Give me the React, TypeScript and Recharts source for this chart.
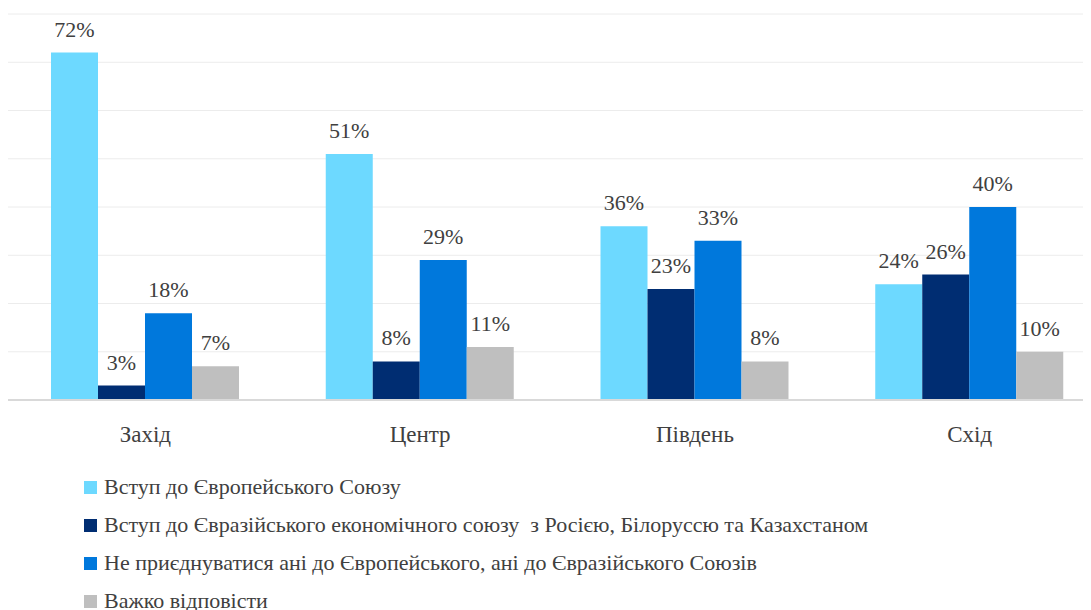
import { BarChart, Bar, XAxis, YAxis, CartesianGrid, Legend, LabelList } from 'recharts';

const regions = ['Захід', 'Центр', 'Південь', 'Схід'];
const euValues = [72, 51, 36, 24];
const eaeuValues = [3, 8, 23, 26];
const neitherValues = [18, 29, 33, 40];
const hardValues = [7, 11, 8, 10];
const yTicks = [0, 10, 20, 30, 40, 50, 60, 70, 80];

const series = [
  { key: 'eu', name: 'Вступ до Європейського Союзу', color: '#6dd9ff' },
  { key: 'eaeu', name: 'Вступ до Євразійського економічного союзу  з Росією, Білоруссю та Казахстаном', color: '#002d72' },
  { key: 'neither', name: 'Не приєднуватися ані до Європейського, ані до Євразійського Союзів', color: '#0078dc' },
  { key: 'hard', name: 'Важко відповісти', color: '#bfbfbf' },
];

const data = regions.map((region, i) => ({
  region,
  eu: euValues[i],
  eaeu: eaeuValues[i],
  neither: neitherValues[i],
  hard: hardValues[i],
}));

const FONT = '"Liberation Serif", "Times New Roman", Times, serif';
const TEXT = '#404040';

// force the serif face on everything inside the chart, svg text included
const css = `.chart-root, .chart-root * { font-family: ${FONT} !important; }`;

// own list so the legend keeps the series order (recharts sorts by name)
const renderLegend = () => (
  <div style={{ fontSize: 22, color: TEXT }}>
    {series.map((s) => (
      <div
        key={s.key}
        style={{ height: 38, whiteSpace: 'pre', display: 'flex', alignItems: 'center' }}
      >
        <span style={{ display: 'inline-block', width: 13, height: 13, background: s.color, marginRight: 7 }} />
        <span>{s.name}</span>
      </div>
    ))}
  </div>
);

const labelProps = {
  position: 'top' as const,
  offset: 16,
  formatter: (v: number) => `${v}%`,
  style: { fontSize: 22, fill: TEXT },
};

export default function App() {
  return (
    <div className="chart-root" style={{ width: 1083, height: 602, overflow: 'hidden', position: 'relative' }}>
      <style>{css}</style>
      <BarChart
        width={1099}
        height={602}
        data={data}
        margin={{ top: 6, right: 0, bottom: 180, left: 0 }}
        barGap={0}
        barSize={47}
      >
        <CartesianGrid vertical={false} stroke="#ececec" />
        <YAxis hide domain={[0, 80]} ticks={yTicks} />
        <XAxis
          dataKey="region"
          tickLine={false}
          axisLine={{ stroke: '#d9d9d9', strokeWidth: 2 }}
          tickMargin={20}
          tick={{ fontSize: 23, fill: TEXT }}
        />
        <Legend
          layout="vertical"
          align="center"
          verticalAlign="middle"
          content={renderLegend}
          wrapperStyle={{ left: 76, top: 460, width: 1000, height: 152 }}
        />
        {series.map((s) => (
          <Bar key={s.key} dataKey={s.key} name={s.name} fill={s.color} isAnimationActive={false}>
            <LabelList dataKey={s.key} {...labelProps} />
          </Bar>
        ))}
      </BarChart>
    </div>
  );
}
